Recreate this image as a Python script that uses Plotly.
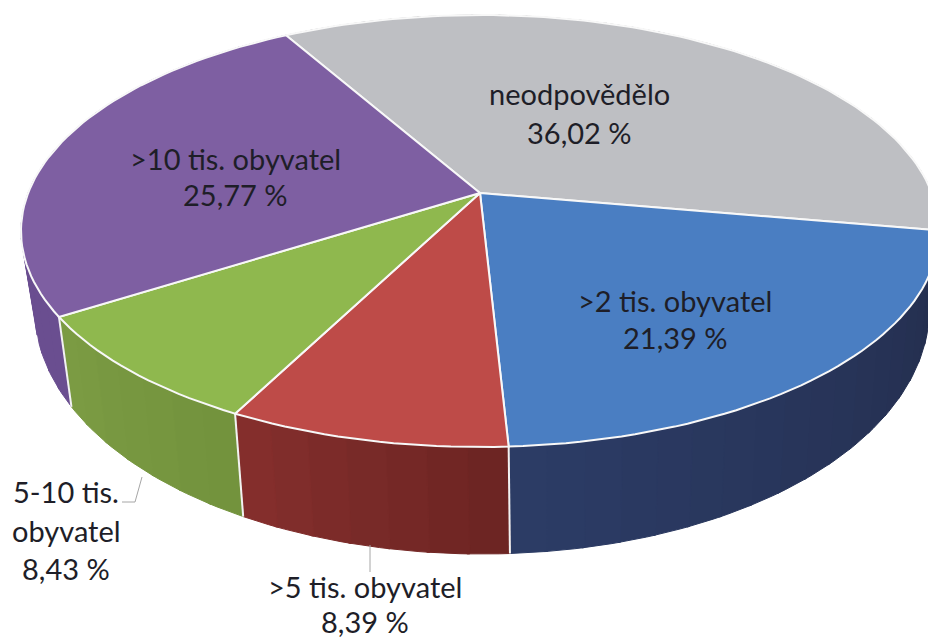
import math
import plotly.graph_objects as go

categories = ["neodpovědělo", ">2 tis. obyvatel", ">5 tis. obyvatel", "5-10 tis. obyvatel", ">10 tis. obyvatel"]
values = [36.02, 21.39, 8.39, 8.43, 25.77]

top_colors = ["#BEBFC3", "#4A7EC2", "#BE4B48", "#8FB84E", "#7E5FA2"]
side_left = ["#8E8E92", "#2C3C66", "#862F2D", "#7C9C44", "#6A4E90"]
side_right = ["#8E8E92", "#232D4C", "#6B2422", "#72923C", "#6A4E90"]

# projection of the tilted disc
CX, CY, RX, RY, TILT = 480, 231, 459, 216, -0.176
SHRINK = 0.975
START_DEG = 10 - values[0] * 3.6  # grey slice ends just below the horizontal


def rim(theta_deg):
    t = math.radians(theta_deg)
    u, v = math.cos(t), math.sin(t)
    d = 1 + TILT * v
    return CX + RX * u * math.sqrt(1 - TILT ** 2) / d, CY + RY * (v + TILT) / d


def low(theta_deg):
    x, y = rim(theta_deg)
    drop = 70 + 37 * math.sin(math.radians(theta_deg))
    return CX + 2 + (x - CX) * SHRINK, y + drop


def centre():
    return CX, CY + RY * TILT


def lerp_hex(a, b, f):
    ca = [int(a[i:i + 2], 16) for i in (1, 3, 5)]
    cb = [int(b[i:i + 2], 16) for i in (1, 3, 5)]
    return "#" + "".join(f"{round(x + (y - x) * f):02X}" for x, y in zip(ca, cb))


fig = go.Figure()
angles = [START_DEG]
for val in values:
    angles.append(angles[-1] + val * 3.6)

# side walls
for i in range(len(values)):
    a0, a1 = angles[i], angles[i + 1]
    n = max(2, int((a1 - a0) / 4))
    for j in range(n):
        s0 = a0 + (a1 - a0) * j / n
        s1 = a0 + (a1 - a0) * (j + 1) / n + (0.3 if j < n - 1 else 0)
        mid = [s0 + (s1 - s0) * k / 4 for k in range(5)]
        top = [rim(m) for m in mid]
        bot = [low(m) for m in reversed(mid)]
        pts = top + bot + [top[0]]
        # clockwise travel runs right to left along the front of the wall
        col = lerp_hex(side_right[i], side_left[i], (j + 0.5) / n)
        fig.add_trace(go.Scatter(x=[p[0] for p in pts], y=[p[1] for p in pts], mode="lines",
                                 fill="toself", fillcolor=col, line=dict(color=col, width=1),
                                 hoverinfo="skip", showlegend=False))

# vertical edges on the visible front
for a in angles[1:5]:
    t, b = rim(a), low(a)
    if 0 < a % 360 < 150:
        fig.add_trace(go.Scatter(x=[t[0], b[0]], y=[t[1], b[1]], mode="lines",
                                 line=dict(color="#F2F2F2", width=2), hoverinfo="skip", showlegend=False))

# top faces
for i in range(len(values)):
    a0, a1 = angles[i], angles[i + 1]
    n = max(4, int((a1 - a0) / 1.5))
    pts = [centre()] + [rim(a0 + (a1 - a0) * k / n) for k in range(n + 1)] + [centre()]
    fig.add_trace(go.Scatter(x=[p[0] for p in pts], y=[p[1] for p in pts], mode="lines",
                             fill="toself", fillcolor=top_colors[i],
                             line=dict(color="#F8F8F8", width=2), hoverinfo="skip", showlegend=False))

# leader lines
fig.add_trace(go.Scatter(x=[142, 135, 122], y=[477, 502, 502], mode="lines",
                         line=dict(color="#A6A6A6", width=1), hoverinfo="skip", showlegend=False))
fig.add_trace(go.Scatter(x=[370, 370], y=[545, 572], mode="lines",
                         line=dict(color="#A6A6A6", width=1), hoverinfo="skip", showlegend=False))

fmt = [f"{v:.2f}".replace(".", ",") + " %" for v in values]
label_lines = [
    ([categories[0], fmt[0]], 579, [93, 132]),
    ([categories[1], fmt[1]], 675, [300, 337]),
    ([categories[2], fmt[2]], 365, [586, 621]),
    (["5-10 tis.", "obyvatel", fmt[3]], 66, [491, 530, 568]),
    ([categories[4], fmt[4]], 235, [158, 194]),
]
for lines, x, ys in label_lines:
    for text, y in zip(lines, ys):
        fig.add_annotation(x=x, y=y, text=text, showarrow=False, xref="x", yref="y",
                           xanchor="center", yanchor="middle",
                           font=dict(family="Lato", size=29, color="#1E1E28"))

fig.update_layout(
    width=928, height=641, margin=dict(l=0, r=0, t=0, b=0),
    paper_bgcolor="white", plot_bgcolor="white", showlegend=False,
    xaxis=dict(range=[0, 928], visible=False, fixedrange=True),
    yaxis=dict(range=[641, 0], visible=False, fixedrange=True),
)
fig.write_html("out.html", config={"displayModeBar": False},
               post_script="document.body.style.margin='0';document.documentElement.style.overflow='hidden';")
